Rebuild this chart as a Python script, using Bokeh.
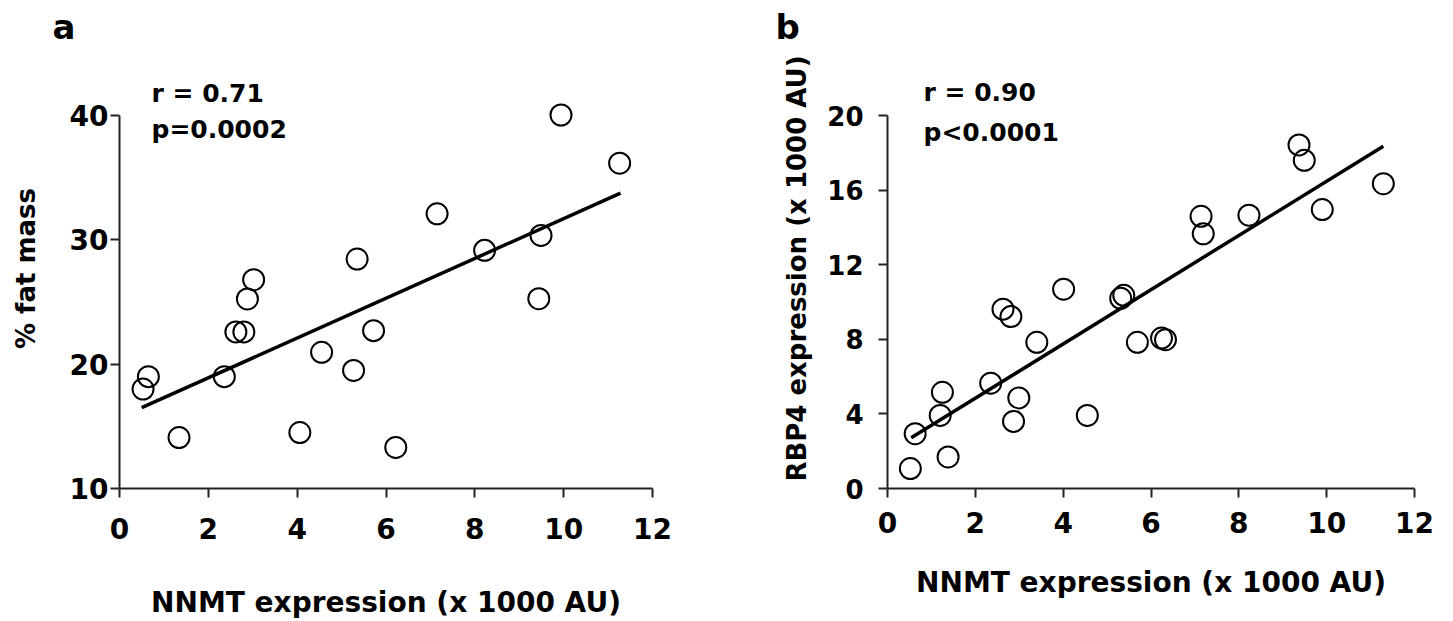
from bokeh.plotting import figure
from bokeh.layouts import row
from bokeh.models import Range1d, Label, FixedTicker
from bokeh.embed import file_html
from bokeh.resources import INLINE

# ---- Panel a data ----
a_x = [0.53, 0.65, 1.34, 2.36, 2.62, 2.80, 2.88, 3.02, 4.06, 4.55, 5.27, 5.35,
       5.72, 6.22, 7.15, 8.22, 9.49, 9.44, 9.94, 11.26]
a_y = [18.0, 19.0, 14.1, 19.0, 22.6, 22.6, 25.25, 26.8, 14.5, 20.96, 19.5, 28.46,
       22.7, 13.3, 32.1, 29.16, 30.36, 25.27, 40.05, 36.17]
a_fit_x = [0.50, 11.28]
a_fit_y = [16.5, 33.76]
a_xticks = [0, 2, 4, 6, 8, 10, 12]
a_yticks = [10, 20, 30, 40]

# ---- Panel b data ----
b_x = [0.52, 0.63, 1.20, 1.25, 1.38, 2.35, 2.63, 2.81, 2.87, 2.99, 3.40, 4.01,
       4.55, 5.31, 5.38, 5.69, 6.24, 6.33, 7.14, 7.19, 8.23, 9.37, 9.49, 9.90, 11.29]
b_y = [1.07, 2.94, 3.92, 5.16, 1.69, 5.65, 9.62, 9.22, 3.60, 4.86, 7.84, 10.69,
       3.92, 10.20, 10.36, 7.84, 8.07, 7.98, 14.60, 13.66, 14.66, 18.43, 17.60, 14.96, 16.35]
b_fit_x = [0.54, 11.29]
b_fit_y = [2.72, 18.36]
b_xticks = [0, 2, 4, 6, 8, 10, 12]
b_yticks = [0, 4, 8, 12, 16, 20]

FONT = "DejaVu Sans"


def make_panel(xs, ys, fx, fy, yr_top, ybounds, xticks, yticks, ylabel,
               width, bl, br, ytick_size, xstand, xlab_stand, ystand, ylab_stand,
               letter, letter_off, rtxt, ptxt, tx, ty, ty2):
    p = figure(width=width, height=621, output_backend="svg", toolbar_location=None,
               x_range=Range1d(0, 12), y_range=Range1d(ybounds[0], yr_top),
               min_border_left=bl, min_border_right=br,
               min_border_top=48, min_border_bottom=133,
               x_axis_label="NNMT expression (x 1000 AU)", y_axis_label=ylabel,
               title=letter)
    p.background_fill_color = "white"
    p.border_fill_color = "white"
    p.outline_line_color = None
    p.xgrid.visible = False
    p.ygrid.visible = False

    p.title.text_font = FONT
    p.title.text_font_style = "bold"
    p.title.text_font_size = "34px"
    p.title.text_color = "black"
    p.title.align = "left"
    p.title.offset = letter_off
    p.title.standoff = 4

    p.xaxis.ticker = FixedTicker(ticks=xticks)
    p.yaxis.ticker = FixedTicker(ticks=yticks)
    p.yaxis.bounds = ybounds
    for ax in (p.xaxis[0], p.yaxis[0]):
        ax.axis_line_width = 2
        ax.axis_line_color = "#222222"
        ax.major_tick_line_width = 2
        ax.major_tick_line_color = "#222222"
        ax.major_tick_out = 9
        ax.major_tick_in = 0
        ax.minor_tick_line_color = None
        ax.major_label_text_font = FONT
        ax.major_label_text_font_style = "bold"
        ax.major_label_text_color = "black"
        ax.axis_label_text_font = FONT
        ax.axis_label_text_font_style = "bold"
        ax.axis_label_text_color = "black"
    p.xaxis.major_label_text_font_size = "28px"
    p.yaxis.major_label_text_font_size = ytick_size
    p.xaxis.axis_label_text_font_size = "28px"
    p.yaxis.axis_label_text_font_size = "26px"
    p.xaxis.major_label_standoff = xstand
    p.xaxis.axis_label_standoff = xlab_stand
    p.yaxis.major_label_standoff = ystand
    p.yaxis.axis_label_standoff = ylab_stand

    p.line(fx, fy, line_color="black", line_width=3.5)
    p.scatter(xs, ys, size=21, fill_alpha=0, line_color="black", line_width=2)
    for txt, yy in ((rtxt, ty), (ptxt, ty2)):
        p.add_layout(Label(x=tx, y=yy, text=txt, text_font=FONT, text_font_style="bold",
                           text_font_size="25px", text_baseline="alphabetic",
                           text_color="black"))
    return p


pa = make_panel(a_x, a_y, a_fit_x, a_fit_y, 45.4, (10, 40), a_xticks, a_yticks,
                "% fat mass", 729, 119, 77, "28px", 20, 44, 2, 26,
                "a", -67, "r = 0.71", "p=0.0002", 0.72, 41.77, 38.87)
pb = make_panel(b_x, b_y, b_fit_x, b_fit_y, 23.6, (0, 20), b_xticks, b_yticks,
                "RBP4 expression (x 1000 AU)", 715, 158, 30, "26px", 14, 30, 15, 12,
                "b", -112, "r = 0.90", "p<0.0001", 0.82, 21.24, 19.09)

layout = row(pa, pb)
open("out.html", "w").write(file_html(layout, INLINE))
